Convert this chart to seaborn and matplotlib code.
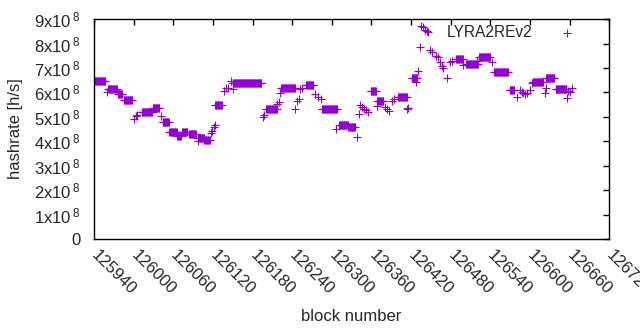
import matplotlib
matplotlib.use('Agg')
import matplotlib.pyplot as plt
import numpy as np
import seaborn as sns

# plateaus: first block, last block, hashrate (x10^8 h/s)
seg_start = [125942, 125959, 125961, 125976, 125985, 126000, 126003, 126005,
             126012, 126029, 126041, 126044, 126054, 126066, 126073, 126084,
             126097, 126098, 126107, 126117, 126119, 126121, 126123, 126123,
             126137, 126139, 126142, 126148, 126151, 126150, 126195, 126197,
             126201, 126217, 126220, 126221, 126223, 126244, 126247, 126250,
             126252, 126255, 126261, 126275, 126279, 126283, 126285, 126306,
             126311, 126325, 126338, 126341, 126343, 126346, 126348, 126352,
             126355, 126359, 126368, 126369, 126381, 126384, 126386, 126391,
             126394, 126400, 126414, 126416, 126421, 126428, 126431, 126434,
             126435, 126438, 126441, 126444, 126446, 126449, 126452, 126457,
             126460, 126464, 126467, 126469, 126474, 126479, 126482, 126488,
             126499, 126503, 126520, 126523, 126542, 126546, 126569, 126580,
             126585, 126588, 126590, 126593, 126595, 126600, 126603, 126604,
             126623, 126624, 126624, 126639, 126656, 126658, 126661, 126663]
seg_end = [125957, 125959, 125974, 125982, 125998, 126000, 126003, 126005,
           126027, 126039, 126041, 126053, 126065, 126071, 126081, 126094,
           126097, 126107, 126115, 126117, 126119, 126121, 126123, 126133,
           126137, 126139, 126142, 126148, 126151, 126193, 126195, 126197,
           126217, 126217, 126220, 126221, 126244, 126244, 126247, 126250,
           126252, 126255, 126272, 126275, 126279, 126283, 126308, 126306,
           126324, 126335, 126338, 126341, 126343, 126346, 126348, 126352,
           126355, 126367, 126368, 126378, 126381, 126384, 126386, 126391,
           126394, 126413, 126414, 126416, 126429, 126428, 126431, 126434,
           126435, 126438, 126441, 126444, 126446, 126449, 126452, 126457,
           126460, 126464, 126467, 126469, 126474, 126479, 126482, 126498,
           126499, 126521, 126520, 126539, 126542, 126566, 126576, 126580,
           126585, 126588, 126590, 126593, 126595, 126600, 126603, 126619,
           126623, 126624, 126637, 126655, 126656, 126658, 126661, 126663]
seg_rate = [6.45, 6.00, 6.13, 5.93, 5.69, 4.90, 5.02, 5.07,
            5.18, 5.38, 5.04, 4.77, 4.36, 4.22, 4.36, 4.29,
            4.02, 4.13, 4.06, 4.33, 4.43, 4.57, 4.66, 5.50,
            6.07, 6.16, 6.20, 6.48, 6.12, 6.38, 4.98, 5.07,
            5.32, 5.52, 5.62, 5.97, 6.20, 5.34, 5.65, 5.73,
            6.13, 6.20, 6.30, 5.93, 5.83, 5.75, 5.34, 4.50,
            4.66, 4.57, 4.16, 5.11, 5.48, 5.42, 5.34, 5.28,
            5.20, 6.04, 5.45, 5.65, 5.42, 5.34, 5.25, 5.65,
            5.73, 5.83, 5.32, 5.38, 6.57, 6.43, 6.89, 7.84,
            8.73, 8.66, 8.56, 8.52, 8.48, 7.75, 7.64, 7.50,
            7.43, 7.23, 7.10, 6.98, 6.57, 7.25, 7.30, 7.36,
            7.12, 7.16, 7.30, 7.43, 7.23, 6.82, 6.08, 5.83,
            6.10, 6.02, 5.97, 5.93, 5.97, 6.10, 6.40, 6.44,
            5.97, 6.20, 6.57, 6.13, 5.79, 6.06, 6.00, 6.20]

blocks = []
rates = []
for a, b, r in zip(seg_start, seg_end, seg_rate):
    for blk in range(a, b + 1):
        blocks.append(blk)
        rates.append(r * 1e8)

xticks = list(range(125940, 126721, 60))
yticks = [i * 1e8 for i in range(10)]
ylabels = ['0'] + ['%dx10$^{\\,8}$' % i for i in range(1, 10)]

sns.set_style('white')
plt.rcParams['font.family'] = ['Liberation Sans', 'DejaVu Sans']
plt.rcParams['mathtext.default'] = 'regular'

fig = plt.figure(figsize=(6.4, 3.3), dpi=100)
ax = fig.add_axes([0.147, 0.276, 0.805, 0.666])

sns.scatterplot(x=blocks, y=rates, marker='+', s=28, color='#9400d3',
                linewidth=0.8, label='LYRA2REv2', ax=ax)

ax.set_xlim(125940, 126720)
ax.set_ylim(0, 9e8)
ax.set_xticks(xticks)
ax.set_xticklabels([str(t) for t in xticks], rotation=-45, ha='left',
                   va='center', rotation_mode='anchor', fontsize=12)
ax.set_yticks(yticks)
ax.set_yticklabels(ylabels, fontsize=12)
ax.tick_params(direction='in', length=4, width=1, top=True, right=True,
               color='black')
ax.tick_params(axis='y', pad=10)
ax.tick_params(axis='x', pad=10)
for sp in ax.spines.values():
    sp.set_color('black')
    sp.set_linewidth(1)

ax.set_xlabel('block number', fontsize=12, labelpad=8)
ax.set_ylabel('hashrate [h/s]', fontsize=12, labelpad=8)

leg = ax.legend(loc='upper right', frameon=False, markerfirst=False,
                fontsize=11.2, handletextpad=0.5, handlelength=3.5,
                borderaxespad=0, bbox_to_anchor=(0.983, 1.0))

fig.savefig('out.png', dpi=100)
